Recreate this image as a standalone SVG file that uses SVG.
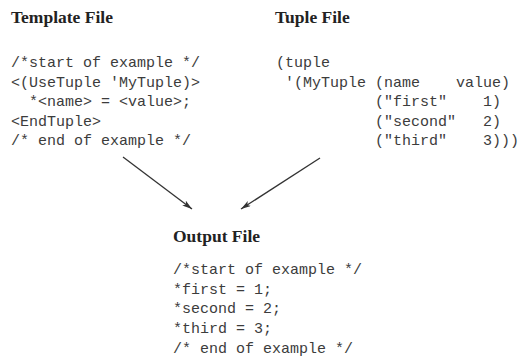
<svg xmlns="http://www.w3.org/2000/svg" width="520" height="358" viewBox="0 0 520 358">
<defs>
<style>
.title{font-family:"Liberation Serif","Times New Roman",serif;font-weight:bold;font-size:17.5px;fill:#222}
.code{font-family:"Liberation Mono","Courier New",monospace;font-size:15px;fill:#3c3c3c;white-space:pre}
.conn{stroke:#333;stroke-width:1.3;fill:none}
</style>
<marker id="arrow" viewBox="0 0 10 6" refX="10" refY="3" markerWidth="10" markerHeight="6" markerUnits="userSpaceOnUse" orient="auto">
<path d="M0,0 L10,3 L0,6 L2.5,3 Z" fill="#333"/>
</marker>
</defs>
<rect width="520" height="358" fill="#fff"/>
<g id="template-file">
<text class="title" x="11" y="23">Template File</text>
<text class="code" xml:space="preserve"><tspan x="11" y="67">/*start of example */</tspan><tspan x="11" y="86.5">&lt;(UseTuple 'MyTuple)&gt;</tspan><tspan x="11" y="106">  *&lt;name&gt; = &lt;value&gt;;</tspan><tspan x="11" y="125.5">&lt;EndTuple&gt;</tspan><tspan x="11" y="145">/* end of example */</tspan></text>
</g>
<g id="tuple-file">
<text class="title" x="275" y="23">Tuple File</text>
<text class="code" xml:space="preserve"><tspan x="276" y="67">(tuple</tspan><tspan x="276" y="86.5"> '(MyTuple (name    value)</tspan><tspan x="276" y="106">           ("first"    1)</tspan><tspan x="276" y="125.5">           ("second"   2)</tspan><tspan x="276" y="145">           ("third"    3)))</tspan></text>
</g>
<g id="output-file">
<text class="title" x="173" y="242">Output File</text>
<text class="code" xml:space="preserve"><tspan x="173" y="274">/*start of example */</tspan><tspan x="173" y="293.5">*first = 1;</tspan><tspan x="173" y="313">*second = 2;</tspan><tspan x="173" y="333">*third = 3;</tspan><tspan x="173" y="352.5">/* end of example */</tspan></text>
</g>
<g id="connectors">
<line class="conn" x1="123" y1="157" x2="192" y2="209" marker-end="url(#arrow)"/>
<line class="conn" x1="320" y1="158" x2="241" y2="209" marker-end="url(#arrow)"/>
</g>
</svg>
